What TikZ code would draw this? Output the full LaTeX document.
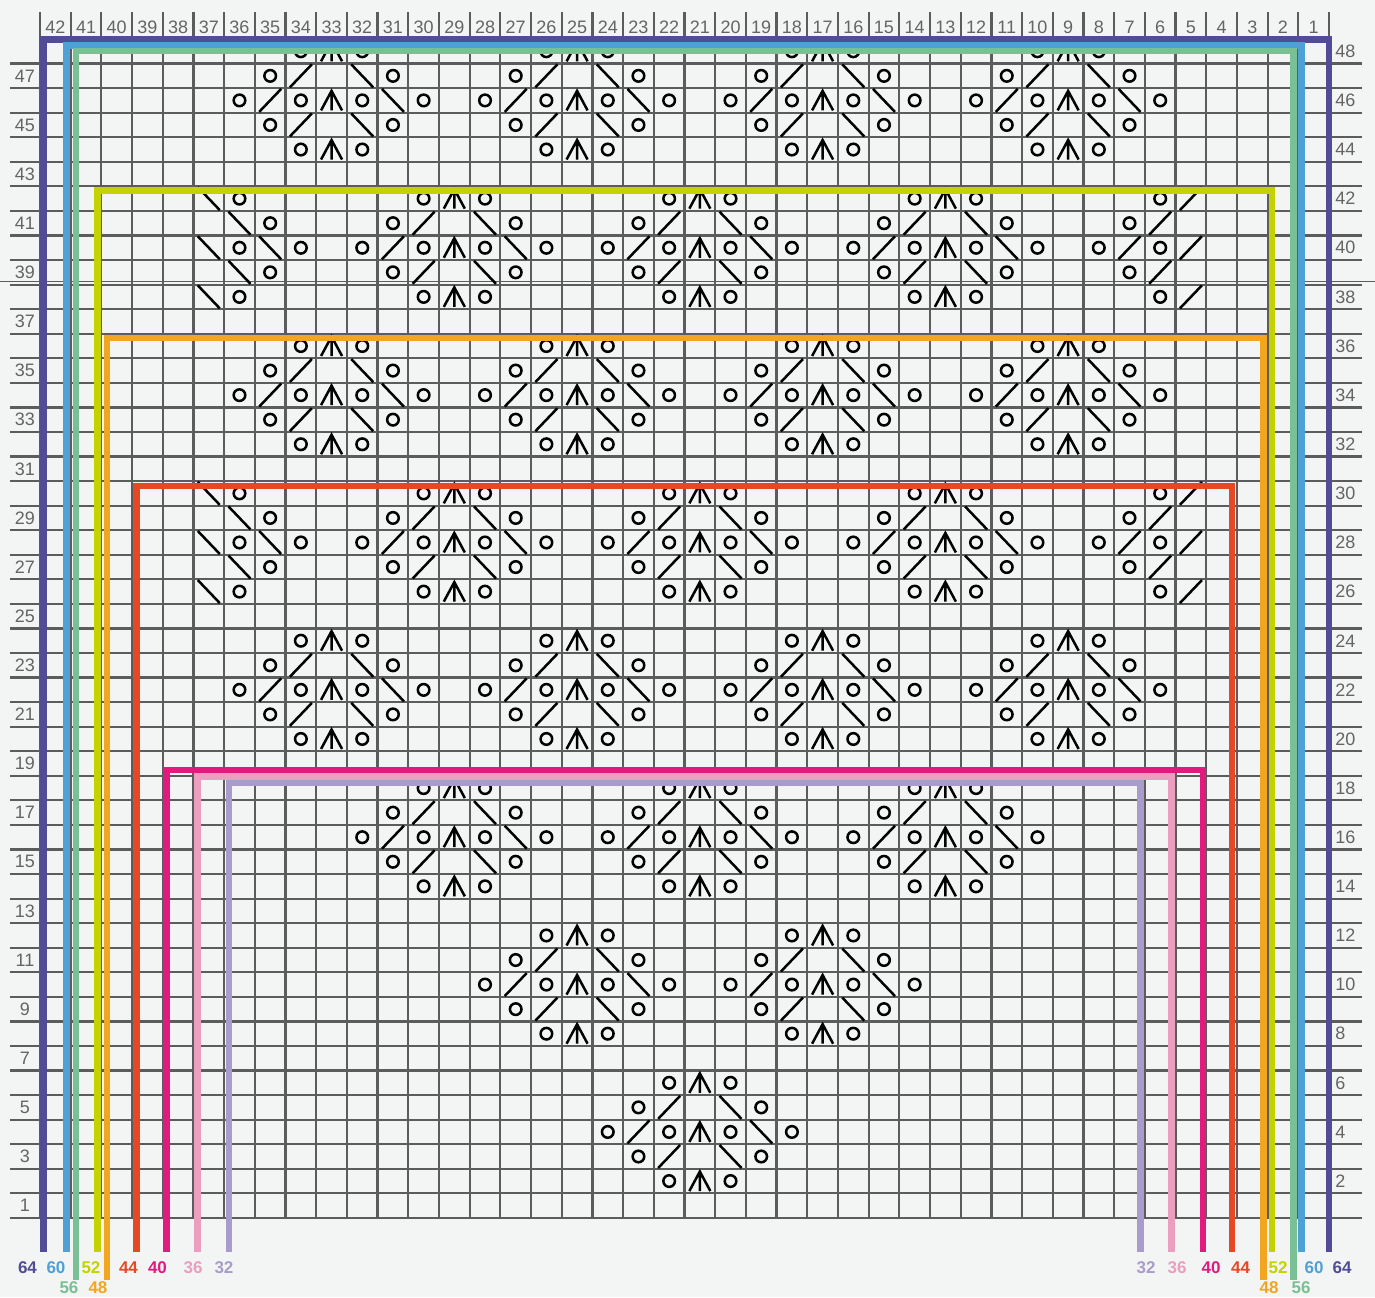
\documentclass[tikz,border=0pt]{standalone}
\usepackage{fontspec}
\setmainfont{Liberation Sans}

\definecolor{bg}{RGB}{243,245,245}
\definecolor{gridgray}{RGB}{92,92,92}
\definecolor{numgray}{RGB}{100,100,100}
\definecolor{sz64}{RGB}{82,76,150}
\definecolor{sz60}{RGB}{78,160,214}
\definecolor{sz56}{RGB}{122,192,148}
\definecolor{sz52}{RGB}{196,210,0}
\definecolor{sz48}{RGB}{242,166,32}
\definecolor{sz44}{RGB}{230,72,36}
\definecolor{sz40}{RGB}{226,26,126}
\definecolor{sz36}{RGB}{236,158,192}
\definecolor{sz32}{RGB}{170,156,202}

% centre of the cell in column #1, row #2 (in px)
\newcommand{\cellxy}[2]{\pgfmathsetmacro\px{40+(42.5-(#1))*30.69}\pgfmathsetmacro\py{39+(48.5-(#2))*24.56}}
% yarn over, k2tog, ssk, centred double decrease
\newcommand{\yo}[2]{\cellxy{#1}{#2}\draw[stitch] (\px,\py) circle[radius=5.8];}
\newcommand{\ktog}[2]{\cellxy{#1}{#2}\draw[stitch] (\px,\py) ++(-11,11.5) -- ++(22,-23);}
\newcommand{\sskd}[2]{\cellxy{#1}{#2}\draw[stitch] (\px,\py) ++(-11,-11.5) -- ++(22,23);}
\newcommand{\cdd}[2]{\cellxy{#1}{#2}\draw[stitch] (\px,\py) ++(-10.5,10) -- ++(10.5,-19.5) -- ++(10.5,19.5) (\px,\py) ++(0,-9.5) -- ++(0,19.5);}
% lace flower, centre column #1, centre row #2
\newcommand{\flower}[2]{%
  \foreach \dr in {-2,2} {\yo{#1+1}{#2+\dr}\cdd{#1}{#2+\dr}\yo{#1-1}{#2+\dr}}%
  \foreach \dr in {-1,1} {\yo{#1+2}{#2+\dr}\ktog{#1+1}{#2+\dr}\sskd{#1-1}{#2+\dr}\yo{#1-2}{#2+\dr}}%
  \yo{#1+3}{#2}\ktog{#1+2}{#2}\yo{#1+1}{#2}\cdd{#1}{#2}\yo{#1-1}{#2}\sskd{#1-2}{#2}\yo{#1-3}{#2}}
% half flowers at the edges
\newcommand{\leftedge}[1]{%
  \foreach \dr in {-2,2} {\sskd{37}{#1+\dr}\yo{36}{#1+\dr}}%
  \foreach \dr in {-1,1} {\sskd{36}{#1+\dr}\yo{35}{#1+\dr}}%
  \sskd{37}{#1}\yo{36}{#1}\sskd{35}{#1}\yo{34}{#1}}
\newcommand{\rightedge}[1]{%
  \foreach \dr in {-2,2} {\yo{6}{#1+\dr}\ktog{5}{#1+\dr}}%
  \foreach \dr in {-1,1} {\yo{7}{#1+\dr}\ktog{6}{#1+\dr}}%
  \yo{8}{#1}\ktog{7}{#1}\yo{6}{#1}\ktog{5}{#1}}

\begin{document}
\begin{tikzpicture}[x=0.5pt,y=-0.5pt]
  \tikzstyle{stitch}=[line width=1.25pt,black,line join=miter]
  \tikzstyle{gridline}=[line width=1.1pt,gridgray]
  \tikzstyle{sizeline}=[line width=3.25pt,line join=miter]
  \tikzstyle{num}=[inner sep=0pt,text=numgray,font=\fontsize{9}{10}\selectfont]
  \tikzstyle{sizenum}=[inner sep=0pt,font=\fontsize{8.5}{10}\selectfont\bfseries]
  \useasboundingbox[fill=bg] (0,0) rectangle (1375,1297);

  % grid
  \foreach \k in {0,...,42} \draw[gridline] ({40+\k*30.69},12) -- ({40+\k*30.69},1218);
  \draw[gridline] (40,39) -- (1329,39);
  \foreach \j in {1,...,48} \draw[gridline] (10,{39+\j*24.56}) -- (1362,{39+\j*24.56});
  \draw[gridgray,line width=0.5pt] (0,281) -- (1375,281);

  % numbers
  \foreach \c in {1,...,42} \node[num] (c\c) at ({40+(42.5-\c)*30.69},27) {\c};
  \foreach \r in {1,3,...,47} \node[num] (r\r) at (25,{39+(48.5-\r)*24.56}) {\r};
  \foreach \r in {2,4,...,48} \node[num,anchor=west] (r\r) at (1335,{39+(48.5-\r)*24.56}) {\r};

  % stitches
  \foreach \m in {46,34,22} {\foreach \c in {33,25,17,9} {\flower{\c}{\m}}}
  \foreach \m in {40,28} {\foreach \c in {29,21,13} {\flower{\c}{\m}}\leftedge{\m}\rightedge{\m}}
  \foreach \c in {29,21,13} {\flower{\c}{16}}
  \foreach \c in {25,17} {\flower{\c}{10}}
  \flower{21}{4}

  % size outlines
  \draw[sizeline,sz64] (43.5,1252) -- (43.5,39.5) -- (1329,39.5) -- (1329,1252);
  \draw[sizeline,sz60] (66.5,1252) -- (66.5,45.5) -- (1301.5,45.5) -- (1301.5,1252);
  \draw[sizeline,sz56] (76,1280) -- (76,51) -- (1293.5,51) -- (1293.5,1280);
  \draw[sizeline,sz52] (97.5,1252) -- (97.5,190.5) -- (1272,190.5) -- (1272,1252);
  \draw[sizeline,sz48] (107,1280) -- (107,338) -- (1263.5,338) -- (1263.5,1280);
  \draw[sizeline,sz44] (136.5,1252) -- (136.5,486) -- (1232,486) -- (1232,1252);
  \draw[sizeline,sz36] (197.5,1252) -- (197.5,776.5) -- (1171.5,776.5) -- (1171.5,1252);
  \draw[sizeline,sz32] (229,1252) -- (229,783) -- (1140.5,783) -- (1140.5,1252);
  \draw[sizeline,sz40] (166.5,1252) -- (166.5,770) -- (1203,770) -- (1203,1252);

  % size numbers
  \foreach \s/\xl/\xr in {64/27.5/1342,60/56/1314,52/91/1278,44/128.5/1240.5,40/157.5/1211,36/193/1177,32/224/1146} {
    \node[sizenum,text=sz\s] (sl\s) at (\xl,1268) {\s};
    \node[sizenum,text=sz\s] (sr\s) at (\xr,1268) {\s};
  }
  \foreach \s/\xl/\xr in {56/69/1301,48/98/1269} {
    \node[sizenum,text=sz\s] (sl\s) at (\xl,1288) {\s};
    \node[sizenum,text=sz\s] (sr\s) at (\xr,1288) {\s};
  }
\end{tikzpicture}
\end{document}
